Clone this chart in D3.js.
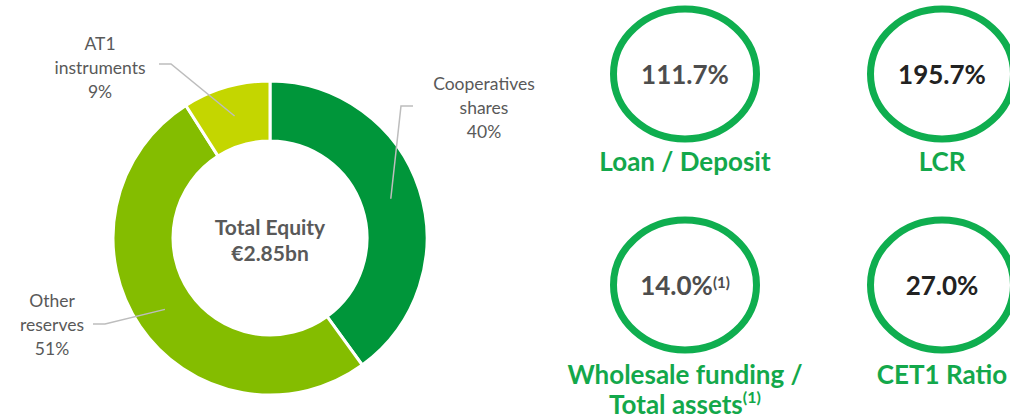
<!DOCTYPE html>
<html>
<head>
<meta charset="utf-8">
<script src="https://cdn.jsdelivr.net/npm/d3@7"></script>
<style>
  body { margin: 0; background: #fff; }
  svg { display: block; font-family: Lato, "Noto Sans", sans-serif; }
</style>
</head>
<body>
<div id="canvas"></div>
<script>
const categories = ['Cooperatives shares', 'Other reserves', 'AT1 instruments']
const shares = [40, 51, 9]
const labelLines = [
    ['Cooperatives', 'shares', '40%'],
    ['Other', 'reserves', '51%'],
    ['AT1', 'instruments', '9%']
]
const colors = ['#00963a', '#84bd00', '#c4d600']
const centerText = ['Total Equity', '€2.85bn']

const kpiNames = ['Loan / Deposit', 'LCR', 'Wholesale funding /|Total assets', 'CET1 Ratio']
const kpiValues = ['111.7%', '195.7%', '14.0%', '27.0%']
const kpiNotes = ['', '', '(1)', '']
const kpiCols = [0, 1, 0, 1]
const kpiRows = [0, 0, 1, 1]

const width = 1010
const height = 418

const svg = d3.select('#canvas')
    .append('svg')
        .attr('width', width)
        .attr('height', height)

// donut
const cx = 270, cy = 238
const outerR = 157, innerR = 97

const pie = d3.pie().sort(null).value(d => d)
const arc = d3.arc().innerRadius(innerR).outerRadius(outerR)
const arcs = pie(shares)

const donut = svg.append('g').attr('transform', `translate(${cx}, ${cy})`)

donut.selectAll('path')
    .data(arcs)
    .enter()
    .append('path')
    .attr('d', arc)
    .attr('fill', (d, i) => colors[i])
    .attr('stroke', '#fff')
    .attr('stroke-width', 3)

donut.selectAll('text.center')
    .data(centerText)
    .enter()
    .append('text')
    .attr('class', 'center')
    .attr('text-anchor', 'middle')
    .attr('y', (d, i) => -3 + i * 26)
    .attr('font-size', '21px')
    .attr('font-weight', 'bold')
    .attr('fill', '#595959')
    .text(d => d)

// label placement per slice (relative to donut centre)
const labelPos = [
    { x: 214, y: -148, hx: 143, bx: 131, ly: -132 },
    { x: -218, y: 69, hx: -177, bx: -165, ly: 86 },
    { x: -170, y: -188, hx: -111, bx: -99, ly: -174 }
]

const labels = svg.append('g').attr('transform', `translate(${cx}, ${cy})`)

arcs.forEach((a, i) => {
    const p = labelPos[i]
    const c = arc.centroid(a)
    labels.append('polyline')
        .attr('points', [[p.hx, p.ly], [p.bx, p.ly], c].map(q => q.join(',')).join(' '))
        .attr('fill', 'none')
        .attr('stroke', '#bdbdbd')
        .attr('stroke-width', 1.5)
    labels.append('text')
        .attr('text-anchor', 'middle')
        .attr('font-size', '17.5px')
        .attr('fill', '#595959')
        .selectAll('tspan')
        .data(labelLines[i])
        .enter()
        .append('tspan')
        .attr('x', p.x)
        .attr('y', (d, j) => p.y + j * 24)
        .text(d => d)
})

// KPI circles
const x = d3.scalePoint().domain([0, 1]).range([685, 942])
const y = d3.scalePoint().domain([0, 1]).range([74, 285])

const kpi = svg.append('g').selectAll('g')
    .data(kpiValues)
    .enter()
    .append('g')
    .attr('transform', (d, i) => `translate(${x(kpiCols[i])}, ${y(kpiRows[i])})`)

kpi.append('ellipse')
    .attr('rx', 71.5)
    .attr('ry', 65)
    .attr('fill', 'none')
    .attr('stroke', '#0fae4f')
    .attr('stroke-width', 7)

const valueText = kpi.append('text')
    .attr('text-anchor', 'middle')
    .attr('y', 10)
    .attr('font-size', '26px')
    .attr('font-weight', 'bold')
    .attr('fill', (d, i) => kpiCols[i] === 0 ? '#4d4d4d' : '#222')

valueText.append('tspan').text(d => d)
valueText.append('tspan')
    .attr('font-size', '15px')
    .attr('dy', -7)
    .text((d, i) => kpiNotes[i])

kpi.each(function(d, i) {
    const lines = kpiNames[i].split('|')
    const t = d3.select(this).append('text')
        .attr('text-anchor', 'middle')
        .attr('font-size', '26px')
        .attr('font-weight', 'bold')
        .attr('fill', '#13a84b')
    lines.forEach((l, j) => {
        t.append('tspan')
            .attr('x', 0)
            .attr('y', (kpiRows[i] === 0 ? 97 : 99) + j * 30)
            .text(l)
        if (j === 1 && kpiNotes[i]) {
            t.append('tspan')
                .attr('font-size', '16px')
                .attr('dy', -11)
                .text(kpiNotes[i])
        }
    })
})
</script>
</body>
</html>
